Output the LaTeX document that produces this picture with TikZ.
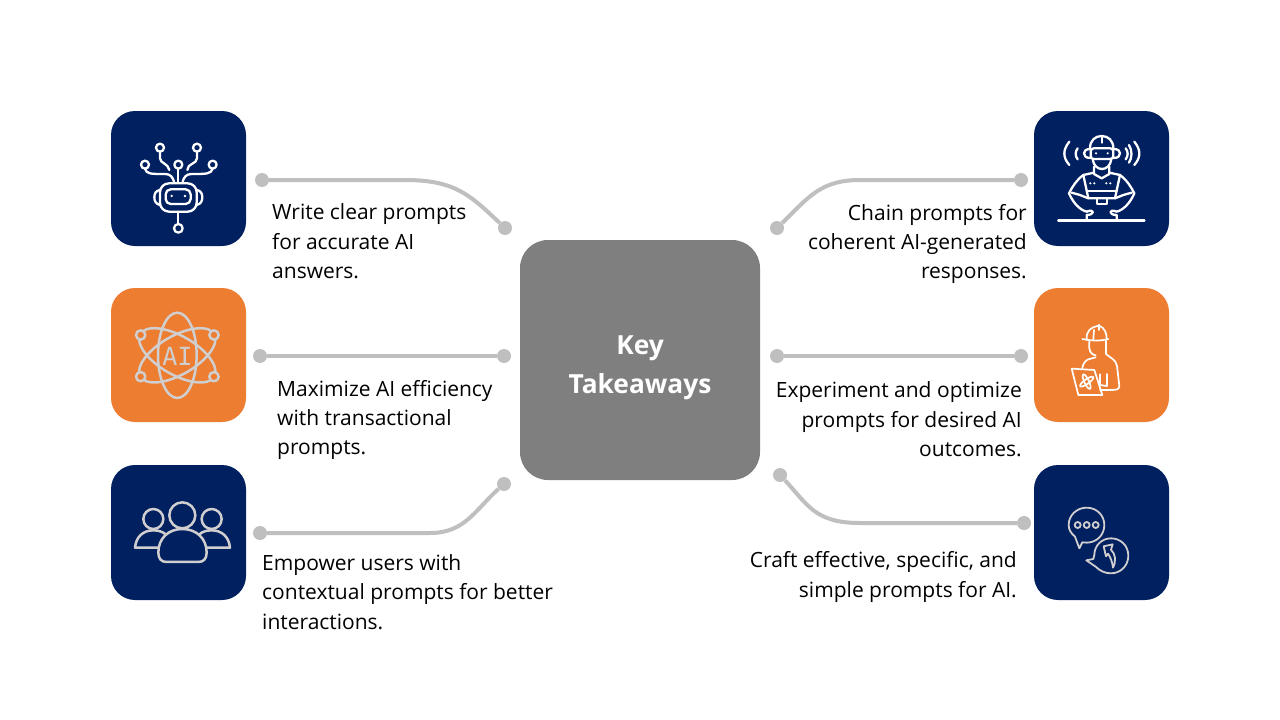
\documentclass[tikz,border=0pt]{standalone}
\usepackage{fontspec}
\setmainfont{Open Sans}
\newfontfamily\aifont{DejaVu Sans Mono}
\definecolor{navy}{HTML}{002060}
\definecolor{accent}{HTML}{ED7D31}
\definecolor{wire}{HTML}{BFBFBF}
\definecolor{hub}{HTML}{7F7F7F}
\definecolor{pale}{HTML}{D0CECE}
\tikzset{
  tile/.style={rounded corners=24pt,draw=none},
  dot/.style={circle,fill=wire,draw=none,minimum size=14pt,inner sep=0pt},
  wirepath/.style={draw=wire,line width=4pt},
  caption/.style={inner sep=0pt,font=\fontsize{21}{29.4}\selectfont,text=black},
  glyph/.style={line width=2.3pt,line cap=round,line join=round,fill=none},
}
\begin{document}
\begin{tikzpicture}[x=1pt,y=-1pt]
\useasboundingbox (0,0) rectangle (1280,720);
\fill[white] (0,0) rectangle (1280,720);
% tiles
\fill[tile,navy] (111,111) rectangle (246,246);
\fill[tile,accent] (111,288) rectangle (246,422);
\fill[tile,navy] (111,465) rectangle (246,600);
\fill[tile,navy] (1034,111) rectangle (1169,246);
\fill[tile,accent] (1034,288) rectangle (1169,422);
\fill[tile,navy] (1034,465) rectangle (1169,600);
% hub
\node[draw=none,fill=hub,rounded corners=28pt,minimum width=240pt,minimum height=240pt,inner sep=0pt] (hubnode) at (640,360) {};
\node[inner sep=0pt,align=center,text=white,font=\fontsize{26.3}{39}\selectfont\bfseries] (hublabel) at (640,368) {Key\\Takeaways};
% dots
\node[dot] (a1) at (262,180) {};
\node[dot] (a2) at (505,228) {};
\node[dot] (b1) at (260,356) {};
\node[dot] (b2) at (504,356) {};
\node[dot] (c1) at (260,533) {};
\node[dot] (c2) at (504,484) {};
\node[dot] (d1) at (1021,180) {};
\node[dot] (d2) at (777,228) {};
\node[dot] (e1) at (1021,356) {};
\node[dot] (e2) at (777,356) {};
\node[dot] (f1) at (1024,523) {};
\node[dot] (f2) at (780,475) {};
% connectors
\draw[wirepath] (a1) -- (405,180) .. controls (455,180) and (470,195) .. (a2);
\draw[wirepath] (b1) -- (b2);
\draw[wirepath] (c1) -- (430,533) .. controls (465,533) and (475,510) .. (c2);
\draw[wirepath] (d1) -- (860,180) .. controls (820,180) and (808,198) .. (d2);
\draw[wirepath] (e1) -- (e2);
\draw[wirepath] (f1) -- (860,523) .. controls (815,523) and (808,505) .. (f2);
% captions
\node[caption,anchor=west,align=left] (t1) at (272,241.5) {Write clear prompts\\for accurate AI\\answers.};
\node[caption,anchor=west,align=left] (t2) at (277,420) {Maximize AI efficiency\\with transactional\\prompts.};
\node[caption,anchor=west,align=left] (t3) at (262,592) {Empower users with\\contextual prompts for better\\interactions.};
\node[caption,anchor=east,align=right] (t4) at (1027,244) {Chain prompts for\\coherent AI-generated\\responses.};
\node[caption,anchor=east,align=right] (t5) at (1022,419.5) {Experiment and optimize\\prompts for desired AI\\outcomes.};
\node[caption,anchor=east,align=right] (t6) at (1017,577) {Craft effective, specific, and\\simple prompts for AI.};
% icon 1: robot with circuit
\begin{scope}[shift={(100,100)},x=.3333pt,y=-.3333pt,glyph,draw=white]
\draw (180,143) circle (12);
\draw (291,143) circle (12);
\draw (135,194) circle (12);
\draw (338,194) circle (12);
\draw (235,194) circle (12);
\draw (235,385) circle (13);
\draw (235,206) -- (235,245);
\draw (180,155) -- (180,175) .. controls (180,190) and (205,190) .. (208,210);
\draw (291,155) -- (291,175) .. controls (291,192) and (262,190) .. (262,210);
\draw (135,206) .. controls (140,222) and (150,222) .. (195,222) .. controls (212,222) and (218,232) .. (222,245);
\draw (338,206) .. controls (333,222) and (320,222) .. (275,222) .. controls (258,222) and (252,232) .. (248,245);
\draw[rounded corners=9pt] (180,250) rectangle (290,335);
\draw (180,270) .. controls (168,272) and (163,280) .. (163,292) .. controls (163,304) and (168,312) .. (180,315);
\draw (290,270) .. controls (302,272) and (307,280) .. (307,292) .. controls (307,304) and (302,312) .. (290,315);
\draw[rounded corners=5pt] (197,268) rectangle (272,312);
\fill[white] (215,288) circle (4);
\fill[white] (255,288) circle (4);
\draw (235,335) -- (235,372);
\end{scope}
% icon 2: atom
\begin{scope}[shift={(100,280)},x=.3333pt,y=-.3333pt,glyph,draw=pale,line width=2.5pt]
\draw (232,226) ellipse [x radius=58,y radius=128];
\draw[rotate around={60:(232,226)}] (232,226) ellipse [x radius=58,y radius=128];
\draw[rotate around={-60:(232,226)}] (232,226) ellipse [x radius=58,y radius=128];
\filldraw[fill=accent] (122,165) circle (14);
\filldraw[fill=accent] (342,165) circle (14);
\filldraw[fill=accent] (122,290) circle (14);
\filldraw[fill=accent] (342,290) circle (14);
\node[text=pale,inner sep=0pt,font=\aifont\fontsize{25}{25}\selectfont] (ailabel) at (232,228) {AI};
\end{scope}
% icon 3: people
\begin{scope}[shift={(100,455)},x=.3333pt,y=-.3333pt,glyph,draw=pale,line width=2.5pt]
\draw (247,181) circle (39);
\draw (160,192) circle (30);
\draw (335,192) circle (30);
\draw (175,293) .. controls (175,250) and (205,222) .. (247,222) .. controls (289,222) and (320,250) .. (320,293) .. controls (320,312) and (310,321) .. (295,321) -- (200,321) .. controls (185,321) and (175,312) .. (175,293);
\draw (175,278) -- (105,278) .. controls (108,245) and (130,226) .. (160,226) .. controls (175,226) and (188,230) .. (197,238);
\draw (320,278) -- (390,278) .. controls (387,245) and (365,226) .. (335,226) .. controls (320,226) and (307,230) .. (298,238);
\end{scope}
% icon 4: engineer with headset
\begin{scope}[shift={(1025,100)},x=.3333pt,y=-.3333pt,glyph,draw=white]
\draw (195,145) .. controls (195,122) and (210,108) .. (230,108) .. controls (250,108) and (265,122) .. (265,145);
\draw (230,112) -- (230,128);
\draw[rounded corners=3pt] (197,145) rectangle (265,177);
\draw (197,147) .. controls (182,147) and (177,153) .. (177,160) .. controls (177,168) and (182,174) .. (197,174);
\draw (265,147) .. controls (280,147) and (285,153) .. (285,160) .. controls (285,168) and (280,174) .. (265,174);
\fill[white] (213,160) circle (3.5);
\fill[white] (248,160) circle (3.5);
\draw (203,177) .. controls (205,197) and (218,207) .. (231,207) .. controls (244,207) and (257,197) .. (259,177);
\draw (207,200) -- (207,222) -- (230,235) -- (253,222) -- (253,200);
\draw (133,125) .. controls (113,150) and (113,172) .. (133,195);
\draw (158,145) .. controls (150,155) and (150,168) .. (158,178);
\draw (328,125) .. controls (348,150) and (348,172) .. (328,195);
\draw (302,145) .. controls (310,155) and (310,168) .. (302,178);
\draw (312,135) .. controls (322,152) and (322,172) .. (312,188);
\draw (207,218) -- (175,225) .. controls (155,240) and (142,260) .. (132,280) .. controls (145,310) and (165,330) .. (185,335);
\draw (253,218) -- (285,225) .. controls (305,240) and (318,260) .. (328,280) .. controls (315,310) and (295,330) .. (275,335);
\draw (175,225) -- (190,295) -- (270,295) -- (285,225);
\draw (185,272) -- (275,272);
\draw (140,278) -- (165,285) -- (190,295);
\draw (320,278) -- (295,285) -- (270,295);
\draw (215,298) -- (215,312) -- (245,312) -- (245,298);
\draw (185,335) .. controls (210,325) and (210,345) .. (185,345) -- (185,360);
\draw (275,335) .. controls (250,325) and (250,345) .. (275,345) -- (275,360);
\foreach \px in {196,208,244,256} \fill[white] (\px,250) circle (3.5);
\draw[line width=2.6pt] (100,362) -- (358,362);
\end{scope}
% icon 5: worker with plan
\begin{scope}[shift={(1025,280)},x=.3333pt,y=-.3333pt,glyph,draw=white,line width=1.7pt]
\draw (172,177) .. controls (200,183) and (230,183) .. (250,177);
\draw (185,178) .. controls (183,155) and (195,142) .. (222,137) .. controls (238,142) and (246,160) .. (245,178);
\draw (205,178) -- (207,150);
\draw (222,134) -- (222,150);
\draw (193,185) -- (193,205) .. controls (195,220) and (205,225) .. (212,226);
\draw (243,182) -- (243,222) .. controls (258,235) and (272,238) .. (276,258) -- (283,318) .. controls (283,330) and (270,330) .. (262,330) -- (225,330);
\draw (212,232) -- (190,238) .. controls (178,243) and (173,255) .. (172,265);
\draw (140,266) -- (208,270) -- (232,345) -- (160,345) -- cycle;
\draw (225,283) -- (225,315);
\draw (245,282) -- (245,318);
\draw (225,315) -- (245,318);
\draw[rotate around={35:(185,305)}] (185,305) ellipse [x radius=24,y radius=7];
\draw[rotate around={-65:(185,305)}] (185,305) ellipse [x radius=24,y radius=7];
\end{scope}
% icon 6: speech bubbles
\begin{scope}[shift={(1025,455)},x=.3333pt,y=-.3333pt,glyph,draw=pale,line width=1.8pt]
\draw (150,245) .. controls (138,235) and (131,224) .. (131,210) .. controls (131,181) and (155,158) .. (185,158) .. controls (215,158) and (238,181) .. (238,210) .. controls (238,240) and (215,263) .. (185,263) .. controls (180,263) and (176,263) .. (172,262) -- (163,280) -- cycle;
\draw (158,210) circle (9);
\draw (185,210) circle (9);
\draw (212,210) circle (9);
\draw (208,300) .. controls (208,272) and (230,250) .. (258,250) .. controls (287,250) and (310,272) .. (310,302) .. controls (310,332) and (287,355) .. (258,355) .. controls (240,355) and (225,348) .. (212,335) -- (184,316) -- (205,312) .. controls (205,308) and (208,304) .. (208,300);
\draw (236,274) -- (263,268) -- (258,284) .. controls (272,298) and (274,318) .. (264,338) .. controls (262,320) and (256,306) .. (249,296) -- (243,304) -- cycle;
\end{scope}
\end{tikzpicture}
\end{document}
